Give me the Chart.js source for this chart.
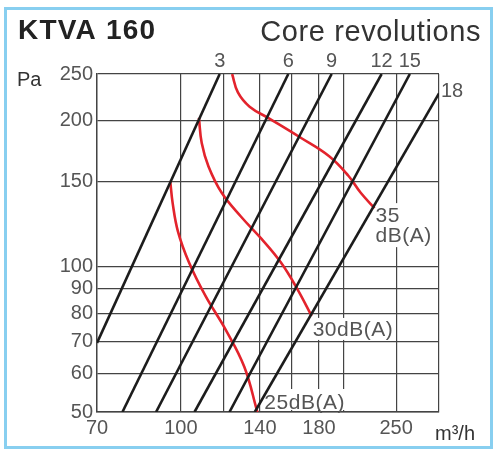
<!DOCTYPE html>
<html>
<head>
<meta charset="utf-8">
<script src="https://cdn.jsdelivr.net/npm/chart.js@4.4.1/dist/chart.umd.min.js"></script>
<style>
  html, body { margin: 0; padding: 0; background: #fff; }
  #wrap { position: relative; width: 500px; height: 456px; }
  #frame { position: absolute; left: 4px; top: 7px; width: 483px; height: 436px; border: 3px solid #88cff0; }
  canvas { position: absolute; left: 0; top: 0; }
</style>
</head>
<body>
<div id="wrap">
  <div id="frame"></div>
  <canvas id="grafico" width="500" height="456"></canvas>
</div>
<script>
// assi (m3/h, Pa)
var xTicks = [70, 100, 120, 140, 160, 180, 200, 250, 300];
var xLabels = [70, 100, 140, 180, 250];
var yTicks = [50, 60, 70, 80, 90, 100, 150, 200, 250];

// linee giri (core revolutions) [q, p]
var revNames = ['3', '6', '9', '12', '15', '18'];
var rev3 = [[70, 69.5], [118, 250]];
var rev6 = [[78, 50], [158, 250]];
var rev9 = [[90, 50], [190, 250]];
var rev12 = [[106, 50], [235, 250]];
var rev15 = [[123, 50], [265, 250]];
var rev18 = [[137, 50], [300, 228]];

// curve rumore dB(A) [q, p]
var db25 = [[95.6, 150], [96.6, 135], [98.8, 118], [103.5, 102], [111, 87], [121, 74], [131, 62], [138.5, 50]];
var db30 = [[108, 203], [109.3, 180], [112.5, 161], [119, 142], [129, 127], [141, 114], [153, 102], [164, 90], [174.5, 79]];
var db35 = [[124.4, 250], [127.5, 229], [134, 214], [146, 202], [166, 185], [188, 169], [204, 154], [215, 142], [228, 132]];

var revLines = [rev3, rev6, rev9, rev12, rev15, rev18];
var dbCurves = [db25, db30, db35];

var FONT = "'Liberation Sans', Arial, sans-serif";
var GRID = '#444';

function toXY(pts) {
    return pts.map(function (p) { return { x: p[0], y: p[1] }; });
}

var datasets = [];
revLines.forEach(function (l) {
    datasets.push({ data: toXY(l), borderColor: '#1c1c1c', borderWidth: 2.6, pointRadius: 0, tension: 0 });
});
dbCurves.forEach(function (c) {
    datasets.push({ data: toXY(c), borderColor: '#e3232c', borderWidth: 2.6, pointRadius: 0, tension: 0.4 });
});

function txt(ctx, s, x, y, font, color, align, base, sp) {
    ctx.font = font;
    ctx.fillStyle = color;
    ctx.textAlign = align || 'left';
    ctx.textBaseline = base || 'alphabetic';
    ctx.letterSpacing = (sp || 0) + 'px';
    ctx.fillText(s, x, y);
    ctx.letterSpacing = '0px';
}

// posizioni delle etichette dB in pixel, calcolate dalle estremita' delle curve
function dbBoxes(chart) {
    var xs = chart.scales.x, ys = chart.scales.y;
    var e25 = db25[db25.length - 1], e30 = db30[db30.length - 1], e35 = db35[db35.length - 1];
    var p25 = [xs.getPixelForValue(e25[0]), ys.getPixelForValue(e25[1])];
    var p30 = [xs.getPixelForValue(e30[0]), ys.getPixelForValue(e30[1])];
    var p35 = [xs.getPixelForValue(e35[0]), ys.getPixelForValue(e35[1])];
    return {
        b25: { x: p25[0] + 7, y: p25[1] - 23, w: 82, h: 21 },
        b30: { x: p30[0] + 1, y: p30[1] + 2, w: 82, h: 22 },
        b35: { x: p35[0] + 1, y: p35[1] - 5, w: 54, h: 44 }
    };
}

var decor = {
    id: 'decor',
    beforeDatasetsDraw: function (chart) {
        var ctx = chart.ctx;
        var b = dbBoxes(chart);
        ctx.save();
        ctx.fillStyle = '#fff';
        [b.b25, b.b30, b.b35].forEach(function (r) { ctx.fillRect(r.x, r.y, r.w, r.h); });
        ctx.restore();
    },
    afterDraw: function (chart) {
        var ctx = chart.ctx;
        var area = chart.chartArea;
        var xs = chart.scales.x, ys = chart.scales.y;
        var lab = '20px ' + FONT;
        ctx.save();
        txt(ctx, 'KTVA 160', 18, 39, 'bold 28px ' + FONT, '#222', 'left', 'alphabetic', 1.2);
        txt(ctx, 'Core revolutions', 481, 41, '29px ' + FONT, '#333', 'right', 'alphabetic', 0.6);
        txt(ctx, 'Pa', 17, 86, '20px ' + FONT, '#333');
        txt(ctx, 'm\u00b3/h', 435, 440, '20px ' + FONT, '#333');

        revLines.forEach(function (l, i) {
            var end = l[l.length - 1];
            var px = xs.getPixelForValue(end[0]);
            var py = ys.getPixelForValue(end[1]);
            if (px >= area.right - 1) {
                txt(ctx, revNames[i], px + 2, py - 2, lab, '#555', 'left', 'middle');
            } else {
                txt(ctx, revNames[i], px, py - 3, lab, '#555', 'center', 'bottom');
            }
        });

        var b = dbBoxes(chart);
        txt(ctx, '25dB(A)', b.b25.x, b.b25.y + 20, '21px ' + FONT, '#555', 'left', 'alphabetic', 0.5);
        txt(ctx, '30dB(A)', b.b30.x, b.b30.y + 18, '21px ' + FONT, '#555', 'left', 'alphabetic', 0.5);
        txt(ctx, '35', b.b35.x, b.b35.y + 19, '21px ' + FONT, '#555', 'left', 'alphabetic', 0.5);
        txt(ctx, 'dB(A)', b.b35.x, b.b35.y + 39, '21px ' + FONT, '#555', 'left', 'alphabetic', 0.5);
        ctx.restore();
    }
};

var chart = new Chart(document.getElementById('grafico'), {
    type: 'line',
    data: { datasets: datasets },
    options: {
        responsive: false,
        animation: false,
        events: [],
        layout: { padding: { top: 74, right: 61, left: 0, bottom: 0 } },
        plugins: { legend: { display: false }, tooltip: { enabled: false } },
        scales: {
            x: {
                type: 'logarithmic',
                min: 70,
                max: 300,
                afterBuildTicks: function (s) { s.ticks = xTicks.map(function (v) { return { value: v }; }); },
                afterFit: function (s) { s.height = 44; },
                grid: { color: GRID, lineWidth: 1.2, drawTicks: false },
                border: { color: GRID, width: 1.4 },
                ticks: {
                    autoSkip: false,
                    maxRotation: 0,
                    padding: 4,
                    color: '#555',
                    font: { family: FONT, size: 20 },
                    callback: function (v) { return xLabels.indexOf(v) >= 0 ? String(v) : ''; }
                }
            },
            y: {
                type: 'logarithmic',
                min: 50,
                max: 250,
                afterBuildTicks: function (s) { s.ticks = yTicks.map(function (v) { return { value: v }; }); },
                afterFit: function (s) { s.width = 97; },
                grid: { color: GRID, lineWidth: 1.2, drawTicks: false },
                border: { color: GRID, width: 1.4 },
                ticks: {
                    autoSkip: false,
                    padding: 4,
                    color: '#555',
                    font: { family: FONT, size: 20 },
                    callback: function (v) { return String(v); }
                }
            }
        }
    },
    plugins: [decor]
});
</script>
</body>
</html>
